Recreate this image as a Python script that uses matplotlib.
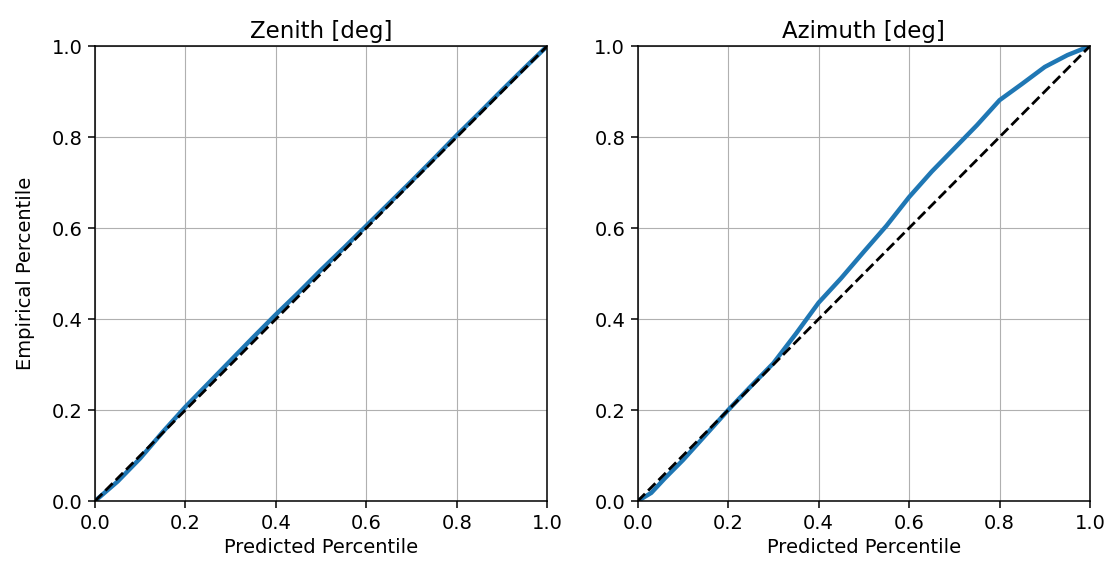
import matplotlib
matplotlib.use("Agg")
import matplotlib.pyplot as plt
import numpy as np

# predicted percentile grid and empirical percentiles
pred_zen = [0.0, 0.05, 0.1, 0.15, 0.2, 0.25, 0.3, 0.35, 0.4, 0.45, 0.5, 0.55, 0.6, 0.65, 0.7, 0.75, 0.8, 0.85, 0.9, 0.95, 1.0]
emp_zen = [0.0, 0.043, 0.094, 0.152, 0.207, 0.258, 0.309, 0.36, 0.41, 0.458, 0.508, 0.556, 0.605, 0.654, 0.703, 0.753, 0.804, 0.853, 0.903, 0.952, 1.0]

pred_azi = [0.0, 0.03, 0.06, 0.1, 0.15, 0.2, 0.25, 0.3, 0.35, 0.4, 0.45, 0.5, 0.55, 0.6, 0.65, 0.7, 0.75, 0.8, 0.85, 0.9, 0.95, 1.0]
emp_azi = [0.0, 0.018, 0.05, 0.09, 0.145, 0.2, 0.252, 0.303, 0.368, 0.436, 0.49, 0.548, 0.605, 0.668, 0.724, 0.775, 0.826, 0.881, 0.917, 0.954, 0.98, 1.0]

titles = ['Zenith [deg]', 'Azimuth [deg]']

fig, axs = plt.subplots(1, 2, figsize=(11.15, 5.66), dpi=100)
plt.subplots_adjust(left=0.0852, right=0.9776, bottom=0.1148, top=0.9187, wspace=0.2)

for ax, x, y, t in zip(axs, [pred_zen, pred_azi], [emp_zen, emp_azi], titles):
    ax.plot(x, y, color='#1f77b4', lw=3.2)
    ax.plot([0, 1], [0, 1], 'k--', lw=2)
    ax.set_xlim(0, 1)
    ax.set_ylim(0, 1)
    ax.grid(True)
    ax.set_title(t, fontsize=16.5)
    ax.set_xlabel('Predicted Percentile', fontsize=14)
    ax.tick_params(labelsize=14, length=5, width=1.1, pad=4)
    for s in ax.spines.values():
        s.set_linewidth(1.1)
    ax.set_xticks(np.arange(0, 1.01, 0.2))
    ax.set_yticks(np.arange(0, 1.01, 0.2))

axs[0].set_ylabel('Empirical Percentile', fontsize=14, labelpad=12)

plt.savefig('out.png')
